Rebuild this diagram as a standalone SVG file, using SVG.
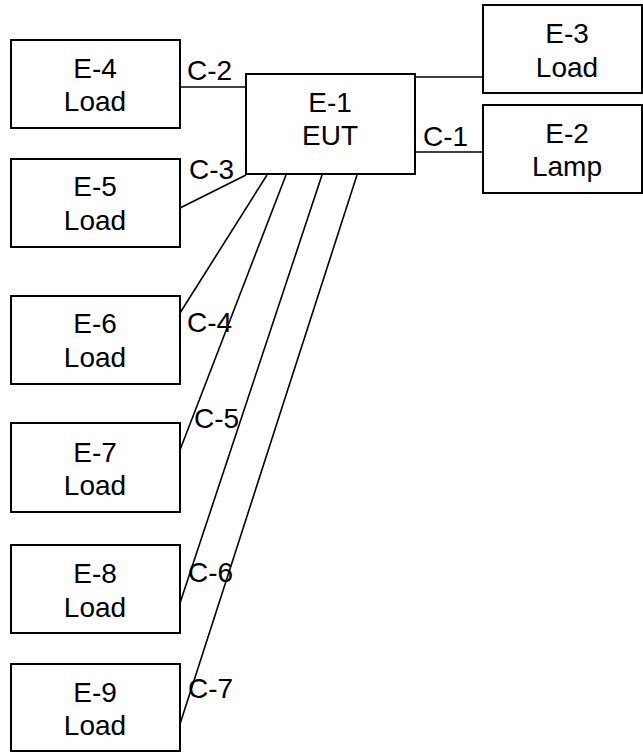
<svg xmlns="http://www.w3.org/2000/svg" width="643" height="752" viewBox="0 0 643 752">
<style>
.box{fill:#fff;stroke:#000;stroke-width:2}
.t{font-family:"Liberation Sans",Arial,sans-serif;font-size:28px;fill:#000;text-anchor:middle}
.l{font-family:"Liberation Sans",Arial,sans-serif;font-size:28px;fill:#000}
.c{stroke:#000;stroke-width:1.6;fill:none}
</style>
<rect width="643" height="752" fill="#fff"/>
<g id="connectors">
<line class="c" x1="180" y1="87" x2="246" y2="87"/>
<line class="c" x1="180" y1="208" x2="246" y2="175"/>
<line class="c" x1="415" y1="77" x2="483" y2="77"/>
<line class="c" x1="415" y1="152" x2="483" y2="152"/>
<line class="c" x1="267" y1="175" x2="180" y2="313"/>
<line class="c" x1="286" y1="175" x2="180" y2="450"/>
<line class="c" x1="322" y1="175" x2="180" y2="603"/>
<line class="c" x1="357" y1="175" x2="180" y2="724"/>
<text class="l" x="187" y="80">C-2</text>
<text class="l" x="189" y="179">C-3</text>
<text class="l" x="423" y="146">C-1</text>
<text class="l" x="187" y="332">C-4</text>
<text class="l" x="194" y="428">C-5</text>
<text class="l" x="188" y="582">C-6</text>
<text class="l" x="188" y="698">C-7</text>
</g>
<g id="E-1">
<rect class="box" x="246" y="74" width="169" height="100"/>
<text class="t" x="330" y="112">E-1</text>
<text class="t" x="330" y="145">EUT</text>
</g>
<g id="E-3">
<rect class="box" x="483" y="5" width="159" height="88"/>
<text class="t" x="567" y="43">E-3</text>
<text class="t" x="567" y="77">Load</text>
</g>
<g id="E-2">
<rect class="box" x="483" y="105" width="159" height="88"/>
<text class="t" x="567" y="143">E-2</text>
<text class="t" x="567" y="176">Lamp</text>
</g>
<g id="E-4">
<rect class="box" x="11" y="40" width="169" height="88"/>
<text class="t" x="95" y="78">E-4</text>
<text class="t" x="95" y="111">Load</text>
</g>
<g id="E-5">
<rect class="box" x="11" y="159" width="169" height="88"/>
<text class="t" x="95" y="196">E-5</text>
<text class="t" x="95" y="230">Load</text>
</g>
<g id="E-6">
<rect class="box" x="11" y="296" width="169" height="88"/>
<text class="t" x="95" y="333">E-6</text>
<text class="t" x="95" y="367">Load</text>
</g>
<g id="E-7">
<rect class="box" x="11" y="423" width="169" height="89"/>
<text class="t" x="95" y="462">E-7</text>
<text class="t" x="95" y="495">Load</text>
</g>
<g id="E-8">
<rect class="box" x="11" y="545" width="169" height="88"/>
<text class="t" x="95" y="583">E-8</text>
<text class="t" x="95" y="617">Load</text>
</g>
<g id="E-9">
<rect class="box" x="11" y="664" width="169" height="87"/>
<text class="t" x="95" y="702">E-9</text>
<text class="t" x="95" y="735">Load</text>
</g>
</svg>
